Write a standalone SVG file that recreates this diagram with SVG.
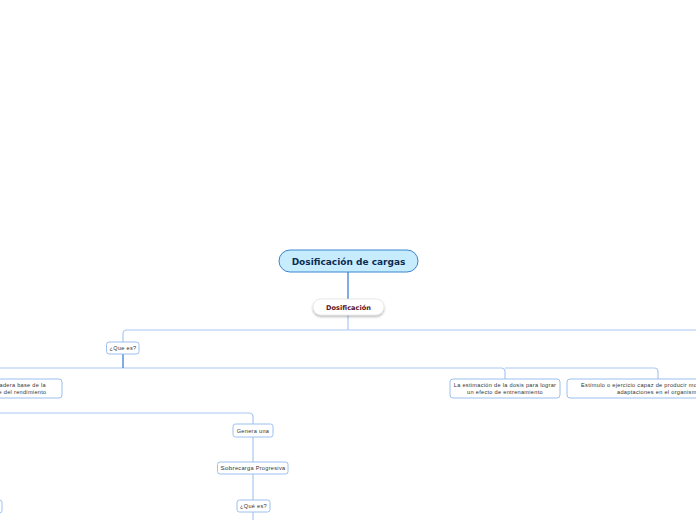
<svg xmlns="http://www.w3.org/2000/svg" width="696" height="520" viewBox="0 0 696 520">
<defs>
<filter id="sh" x="-20%" y="-40%" width="140%" height="190%"><feDropShadow dx="0" dy="1.5" stdDeviation="1.2" flood-color="#000" flood-opacity="0.3"/></filter>
</defs>
<style>
.c{fill:none;stroke:#a9c8f3;stroke-width:1.2}
.cd{fill:none;stroke:#3d7fd9;stroke-width:1.3}
.n{fill:#fff;stroke:#9cc0f0;stroke-width:1}
.t{font-family:"Liberation Sans",Arial,sans-serif;font-size:5.6px;letter-spacing:0.3px;fill:#333;text-anchor:middle}
</style>
<rect width="696" height="520" fill="#fff"/>
<g id="connectors">
<path class="cd" d="M348,272 V299"/>
<path class="c" d="M348,315 V330"/>
<path class="c" d="M696,330 H127 Q123,330 123,334 V342"/>
<path class="c" d="M0,368 H501 Q505,368 505,372 V379"/>
<path class="c" d="M505,368 H654 Q658,368 658,372 V379"/>
<path class="cd" d="M123,354 V368"/>
<path class="c" d="M0,413 H249 Q253,413 253,417 V424"/>
<path class="c" d="M253,437 V462"/>
<path class="c" d="M253,474 V500"/>
<path class="c" d="M253,512 V520"/>
</g>
<g id="root">
<rect x="279" y="250" width="139" height="22" rx="11" fill="#c6ecfd" stroke="#3a86cf" stroke-width="1"/>
<text x="348.5" y="264.5" font-family="'DejaVu Sans',Verdana,sans-serif" font-size="9" font-weight="bold" fill="#0e2c52" text-anchor="middle">Dosificación de cargas</text>
</g>
<g id="dosificacion">
<rect x="313" y="299" width="71" height="16" rx="8" fill="#fff" stroke="#ddd" stroke-width="0.6" filter="url(#sh)"/>
<text x="348.5" y="309.5" font-family="'DejaVu Sans',Verdana,sans-serif" font-size="6.6" font-weight="bold" fill="#5a1426" text-anchor="middle">Dosificación</text>
</g>
<g id="quees1">
<rect class="n" x="106.5" y="342" width="32.5" height="12" rx="2.5"/>
<text class="t" x="123" y="350">¿Que es?</text>
</g>
<g id="base">
<rect class="n" x="-60" y="379" width="122" height="19" rx="3"/>
<text class="t" x="46" y="387" style="text-anchor:end">adera base de la</text>
<text class="t" x="46.5" y="394" style="text-anchor:end">e del rendimiento</text>
</g>
<g id="estimacion">
<rect class="n" x="450" y="379" width="110" height="19" rx="3"/>
<text class="t" x="505" y="387">La estimación de la dosis para lograr</text>
<text class="t" x="505" y="394">un efecto de entrenamiento</text>
</g>
<g id="estimulo">
<rect class="n" x="567" y="379" width="160" height="19" rx="3"/>
<text class="t" x="581" y="387" style="text-anchor:start">Estímulo o ejercicio capaz de producir mo</text>
<text class="t" x="617" y="394" style="text-anchor:start">adaptaciones en el organism</text>
</g>
<g id="genera">
<rect class="n" x="233" y="424" width="40" height="13" rx="2.5"/>
<text class="t" x="253" y="432.5">Genera una</text>
</g>
<g id="sobrecarga">
<rect class="n" x="217.5" y="462" width="70.5" height="12" rx="2.5"/>
<text class="t" x="253" y="470"><tspan font-size="6.2">Sobr</tspan>ecarga Progresiva</text>
</g>
<g id="quees2">
<rect class="n" x="237" y="500" width="33" height="12" rx="2.5"/>
<text class="t" x="253.5" y="508">¿Qué es?</text>
</g>
<g id="leftbottom">
<rect class="n" x="-40" y="500" width="42" height="13" rx="2.5"/>
</g>
</svg>
